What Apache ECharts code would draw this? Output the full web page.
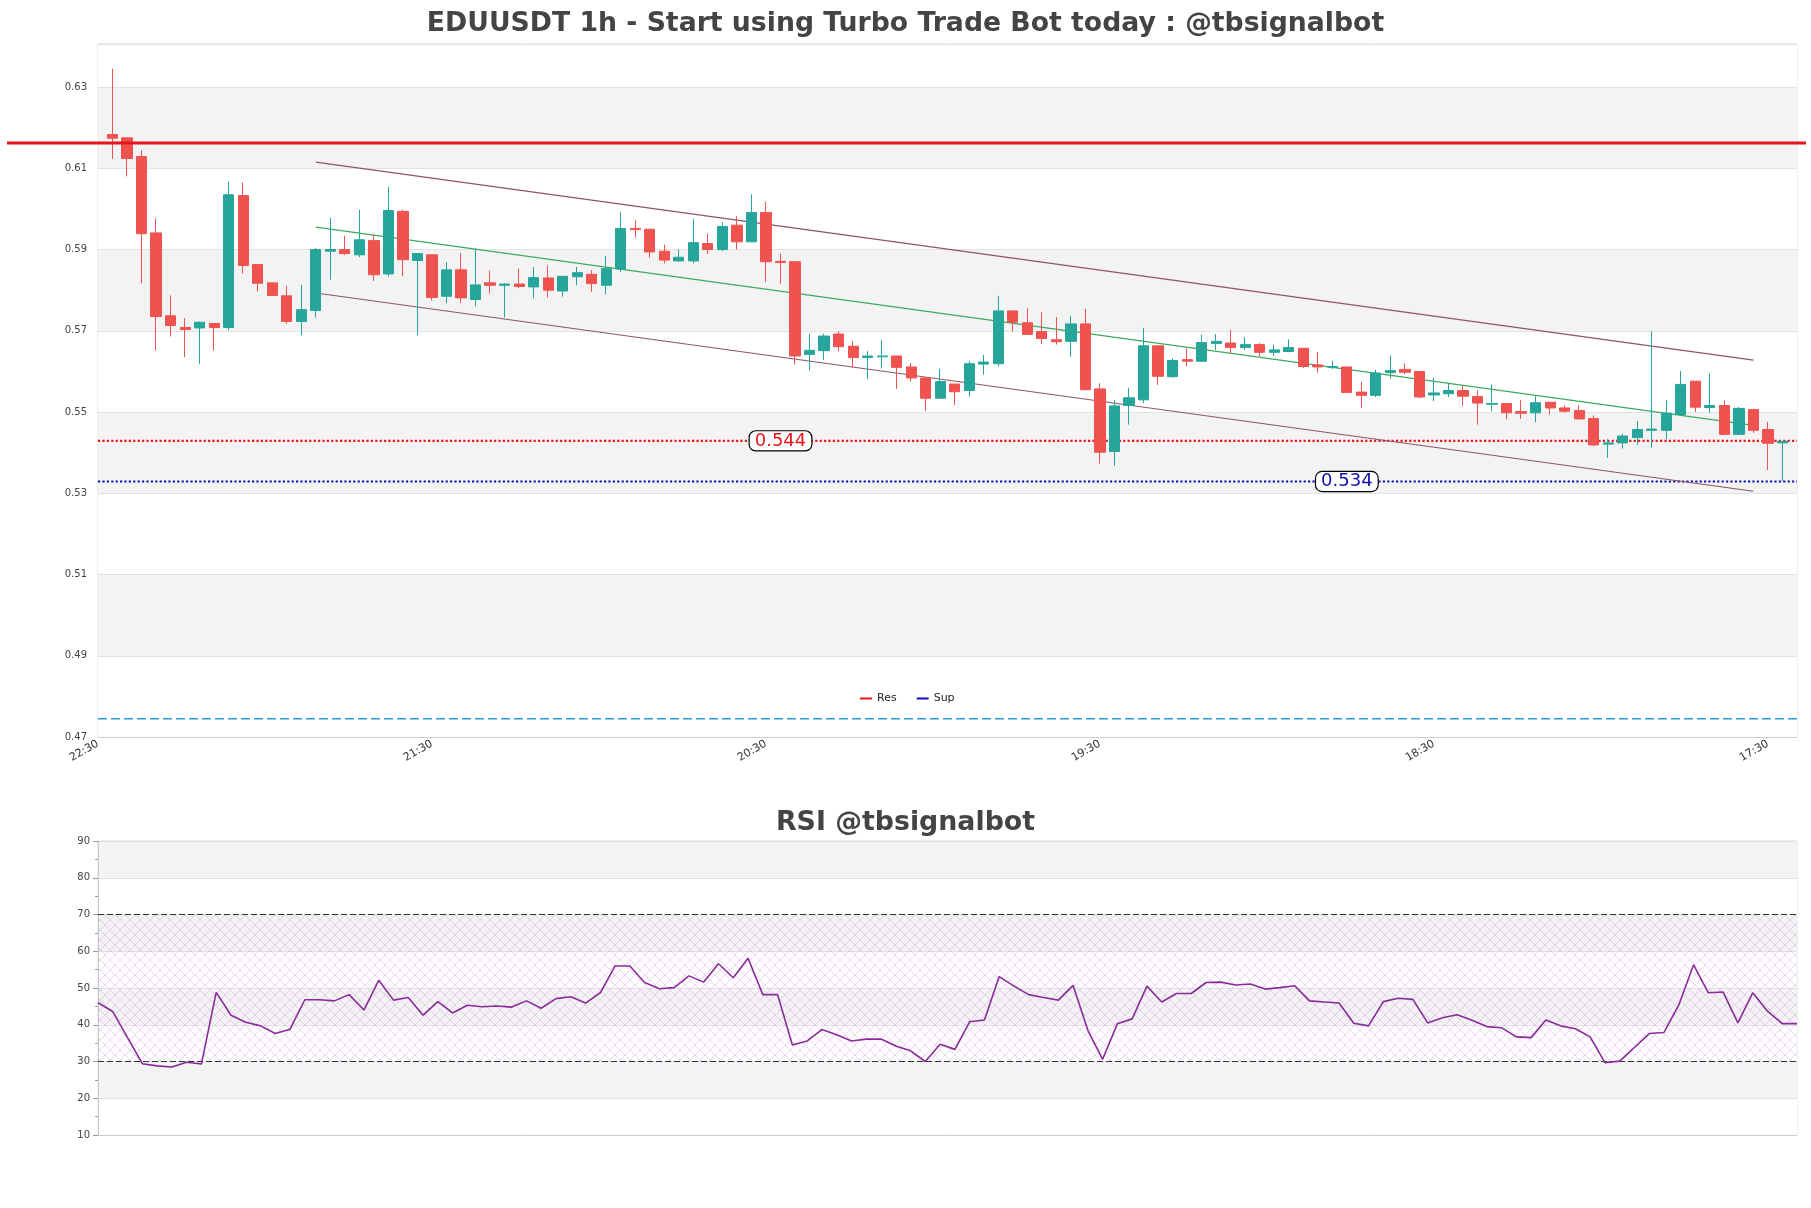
<!DOCTYPE html>
<html><head><meta charset="utf-8">
<script src="https://cdn.jsdelivr.net/npm/echarts@6/dist/echarts.min.js"></script>
<style>html,body{margin:0;padding:0;background:#fff}#c{width:1811px;height:1208px}</style>
</head><body><div id="c"></div><script>
// ---------- data ----------
const xLabels = ['22:30','21:30','20:30','19:30','18:30','17:30'];
const opens = [0.6183,0.6175,0.6129,0.5941,0.5737,0.5708,0.5707,0.5718,0.5708,0.6033,
0.5863,0.5818,0.5786,0.5723,0.5750,0.5896,0.5900,0.5887,0.5922,0.5840,
0.5994,0.5873,0.5887,0.5785,0.5850,0.5777,0.5818,0.5812,0.5815,0.5808,
0.5830,0.5798,0.5833,0.5839,0.5812,0.5852,0.5952,0.5950,0.5896,0.5872,
0.5872,0.5915,0.5900,0.5960,0.5919,0.5991,0.5871,0.5870,0.5642,0.5651,
0.5692,0.5662,0.5634,0.5636,0.5638,0.5611,0.5584,0.5534,0.5569,0.5553,
0.5618,0.5619,0.5749,0.5720,0.5698,0.5678,0.5674,0.5717,0.5557,0.5403,
0.5516,0.5530,0.5663,0.5587,0.5629,0.5625,0.5669,0.5670,0.5659,0.5666,
0.5647,0.5649,0.5657,0.5616,0.5610,0.5611,0.5549,0.5541,0.5597,0.5605,
0.5600,0.5542,0.5545,0.5553,0.5538,0.5519,0.5521,0.5501,0.5498,0.5524,
0.5510,0.5504,0.5484,0.5421,0.5424,0.5437,0.5455,0.5455,0.5494,0.5576,
0.5511,0.5516,0.5445,0.5506,0.5457,0.5424];
const closes = [0.6174,0.6124,0.5939,0.5735,0.5713,0.5703,0.5721,0.5708,0.6035,0.5861,
0.5817,0.5787,0.5723,0.5752,0.5900,0.5900,0.5890,0.5924,0.5838,0.5996,
0.5875,0.5890,0.5782,0.5850,0.5781,0.5813,0.5812,0.5815,0.5809,0.5831,
0.5800,0.5834,0.5843,0.5816,0.5853,0.5952,0.5949,0.5894,0.5874,0.5881,
0.5917,0.5900,0.5957,0.5919,0.5991,0.5870,0.5868,0.5638,0.5652,0.5687,
0.5661,0.5634,0.5638,0.5638,0.5610,0.5584,0.5534,0.5575,0.5550,0.5619,
0.5623,0.5749,0.5721,0.5691,0.5681,0.5673,0.5717,0.5555,0.5401,0.5515,
0.5535,0.5663,0.5588,0.5627,0.5625,0.5671,0.5674,0.5659,0.5666,0.5647,
0.5653,0.5659,0.5612,0.5611,0.5612,0.5548,0.5541,0.5596,0.5602,0.5598,
0.5537,0.5547,0.5553,0.5539,0.5522,0.5521,0.5498,0.5497,0.5523,0.5510,
0.5502,0.5483,0.5419,0.5424,0.5441,0.5457,0.5458,0.5497,0.5568,0.5512,
0.5516,0.5445,0.5509,0.5455,0.5423,0.5428];
const lows = [0.6123,0.6080,0.5817,0.5652,0.5686,0.5635,0.5618,0.5652,0.5701,0.5841,
0.5797,0.5787,0.5717,0.5689,0.5733,0.5826,0.5887,0.5881,0.5823,0.5834,
0.5834,0.5689,0.5775,0.5768,0.5768,0.5760,0.5792,0.5733,0.5805,0.5780,
0.5782,0.5784,0.5812,0.5796,0.5790,0.5845,0.5930,0.5880,0.5866,0.5870,
0.5866,0.5889,0.5896,0.5900,0.5919,0.5820,0.5816,0.5617,0.5602,0.5628,
0.5650,0.5610,0.5581,0.5607,0.5557,0.5576,0.5503,0.5534,0.5517,0.5538,
0.5592,0.5612,0.5698,0.5689,0.5668,0.5666,0.5636,0.5553,0.5373,0.5368,
0.5469,0.5522,0.5567,0.5584,0.5612,0.5623,0.5653,0.5643,0.5653,0.5637,
0.5638,0.5647,0.5608,0.5597,0.5606,0.5547,0.5510,0.5537,0.5582,0.5593,
0.5534,0.5527,0.5537,0.5515,0.5469,0.5502,0.5482,0.5483,0.5475,0.5494,
0.5498,0.5482,0.5416,0.5387,0.5410,0.5419,0.5412,0.5433,0.5490,0.5500,
0.5498,0.5445,0.5443,0.5449,0.5357,0.5330];
const highs = [0.6345,0.6175,0.6145,0.5976,0.5787,0.5731,0.5723,0.5719,0.6067,0.6065,
0.5863,0.5818,0.5811,0.5813,0.5904,0.5978,0.5934,0.5998,0.5937,0.6054,
0.5998,0.5890,0.5887,0.5869,0.5891,0.5902,0.5848,0.5817,0.5853,0.5857,
0.5861,0.5834,0.5857,0.5849,0.5884,0.5992,0.5972,0.5950,0.5912,0.5900,
0.5976,0.5939,0.5967,0.5982,0.6036,0.6017,0.5890,0.5870,0.5693,0.5693,
0.5699,0.5675,0.5650,0.5677,0.5638,0.5620,0.5584,0.5606,0.5569,0.5626,
0.5641,0.5786,0.5749,0.5756,0.5746,0.5734,0.5737,0.5754,0.5571,0.5530,
0.5560,0.5707,0.5663,0.5632,0.5657,0.5690,0.5692,0.5702,0.5684,0.5670,
0.5666,0.5679,0.5657,0.5648,0.5626,0.5611,0.5575,0.5604,0.5639,0.5620,
0.5600,0.5584,0.5572,0.5565,0.5554,0.5568,0.5521,0.5529,0.5539,0.5524,
0.5516,0.5516,0.5492,0.5433,0.5447,0.5478,0.5699,0.5529,0.5601,0.5576,
0.5595,0.5529,0.5512,0.5508,0.5476,0.5428];
const rsiValues = [46.0,43.6,36.5,29.4,28.8,28.5,29.8,29.3,48.8,42.6,
40.7,39.7,37.6,38.8,46.8,46.8,46.5,48.2,44.0,52.1,
46.7,47.4,42.6,46.3,43.2,45.3,44.9,45.1,44.8,46.5,
44.5,47.1,47.6,45.9,48.7,56.0,56.0,51.5,49.8,50.1,
53.3,51.6,56.6,52.8,58.1,48.2,48.2,34.5,35.6,38.7,
37.3,35.6,36.1,36.1,34.2,32.9,30.0,34.7,33.3,40.8,
41.3,53.1,50.5,48.2,47.4,46.7,50.7,38.5,30.6,40.3,
41.6,50.5,46.2,48.5,48.5,51.5,51.6,50.8,51.1,49.7,
50.1,50.6,46.5,46.2,45.9,40.4,39.7,46.3,47.2,46.9,
40.5,41.9,42.7,41.2,39.5,39.2,36.7,36.5,41.3,39.7,
38.9,36.7,29.7,30.1,33.8,37.6,37.9,45.4,56.3,48.7,
48.9,40.5,48.7,43.7,40.3,40.3];
const resLevel = 0.5429, resText = '0.544';
const supLevel = 0.5329, supText = '0.534';
const topLevel = 0.6162;
const lowDashLevel = 0.4745;
const channelX = [14, 113];
const channelUpper = [0.6115, 0.5628];
const channelMid = [0.5955, 0.5467];
const channelLower = [0.5793, 0.5305];
const rsiBands = [30, 70];

// ---------- build ----------
const N = opens.length;
const xMin = -1, xMax = N;
const candles = opens.map((o, i) => [i, o, closes[i], lows[i], highs[i]]);
const rsiData = rsiValues.map((v, i) => [i, v]);
const FONT = 'DejaVu Sans';

const pc = document.createElement('canvas');
pc.width = 10; pc.height = 10;
const g = pc.getContext('2d');
g.strokeStyle = 'rgba(195,150,210,0.55)';
g.lineWidth = 0.7;
g.beginPath(); g.moveTo(0, 0); g.lineTo(10, 10); g.moveTo(10, 0); g.lineTo(0, 10); g.stroke();

function hLine(name, level, color, type, width, labelAt, labelText) {
  const data = [[xMin, level], [xMax, level]];
  const s = {
    name, type: 'line', xAxisIndex: 0, yAxisIndex: 0, data, symbol: 'none',
    lineStyle: { color, type, width }, itemStyle: { color }, silent: true, z: 3
  };
  if (labelText) {
    s.markPoint = {
      symbol: 'rect', symbolSize: [1, 1], itemStyle: { color: 'rgba(0,0,0,0)' },
      data: [{ coord: [labelAt, level], value: labelText }],
      label: {
        show: true, position: 'inside', formatter: labelText, color, fontFamily: FONT, fontSize: 18,
        backgroundColor: '#fff', borderColor: '#000', borderWidth: 1.2, borderRadius: 6, padding: [1, 5, 0, 5]
      }
    };
  }
  return s;
}
function segLine(ys, color) {
  return { type: 'line', xAxisIndex: 0, yAxisIndex: 0, symbol: 'none', silent: true,
    data: [[channelX[0], ys[0]], [channelX[1], ys[1]]], lineStyle: { color, width: 1.2 }, z: 4 };
}

const chart = echarts.init(document.getElementById('c'), null, { renderer: 'canvas' });
const option = {
  animation: false,
  backgroundColor: '#fff',
  textStyle: { fontFamily: FONT },
  title: [
    { text: 'EDUUSDT 1h - Start using Turbo Trade Bot today : @tbsignalbot', left: 'center', top: 6,
      textStyle: { fontFamily: FONT, fontWeight: 'bold', fontSize: 26.7, color: '#444' } },
    { text: 'RSI @tbsignalbot', left: 'center', top: 805,
      textStyle: { fontFamily: FONT, fontWeight: 'bold', fontSize: 26.8, color: '#444' } }
  ],
  legend: {
    data: ['Res', 'Sup'], left: 855, top: 688, icon: 'rect', itemWidth: 12, itemHeight: 2, itemGap: 20,
    textStyle: { fontFamily: FONT, fontSize: 11, color: '#222' }
  },
  grid: [
    { left: 98, right: 14, top: 44, height: 693, show: true, borderColor: '#ddd', borderWidth: 1, backgroundColor: '#fff' },
    { left: 98, right: 14, top: 841, height: 294, show: true, borderColor: '#ddd', borderWidth: 1, backgroundColor: '#fff' }
  ],
  xAxis: [
    { type: 'value', gridIndex: 0, min: xMin, max: xMax, interval: 23,
      axisLine: { show: true, lineStyle: { color: '#ccc' } }, axisTick: { show: false }, splitLine: { show: false },
      axisLabel: { rotate: 30, fontSize: 11, color: '#333', fontFamily: FONT, margin: 6, showMaxLabel: false,
        formatter: v => { const k = (v - xMin) / 23; const r = Math.round(k); return Math.abs(k - r) < 1e-6 ? (xLabels[r] || '') : ''; } } },
    { type: 'value', gridIndex: 1, min: 0, max: N - 1,
      axisLine: { show: true, lineStyle: { color: '#ccc' } }, axisTick: { show: false }, axisLabel: { show: false }, splitLine: { show: false } }
  ],
  yAxis: [
    { type: 'value', gridIndex: 0, min: 0.47, max: 0.6406, interval: 0.02, scale: true,
      axisLine: { show: false }, axisTick: { show: false },
      axisLabel: { fontSize: 10, color: '#444', fontFamily: FONT, margin: 11, showMaxLabel: false, formatter: v => v.toFixed(2) },
      splitLine: { show: true, lineStyle: { color: '#e2e2e2' } },
      splitArea: { show: true, areaStyle: { color: ['#ffffff', '#f3f3f3'] } } },
    { type: 'value', gridIndex: 1, min: 10, max: 90, interval: 10,
      axisLine: { show: true, lineStyle: { color: '#ccc' } },
      axisTick: { show: true, length: 5, lineStyle: { color: '#999' } },
      minorTick: { show: true, splitNumber: 2, length: 3, lineStyle: { color: '#999' } },
      axisLabel: { fontSize: 10, color: '#444', fontFamily: FONT, margin: 8 },
      splitLine: { show: true, lineStyle: { color: '#e2e2e2' } },
      splitArea: { show: true, areaStyle: { color: ['#ffffff', '#f3f3f3'] } } }
  ],
  series: [
    { type: 'candlestick', xAxisIndex: 0, yAxisIndex: 0, data: candles, barWidth: '73%', z: 5,
      itemStyle: { color: '#26a69a', color0: '#ef5350', borderColor: '#26a69a', borderColor0: '#ef5350', borderWidth: 1 } },
    hLine('Res', resLevel, '#e8161b', 'dotted', 2.2, 46, resText),
    hLine('Sup', supLevel, '#1010b0', 'dotted', 2.2, 85, supText),
    hLine('lowdash', lowDashLevel, '#2a9bd6', [9, 4], 1.4),
    segLine(channelUpper, '#8e5565'),
    segLine(channelMid, '#3daa5f'),
    segLine(channelLower, '#8e5565'),
    { type: 'line', xAxisIndex: 1, yAxisIndex: 1, data: rsiData, symbol: 'none', z: 5,
      lineStyle: { color: '#8a2b9a', width: 1.6 },
      markArea: { silent: true, itemStyle: { color: { image: pc, repeat: 'repeat' } },
        data: [[{ yAxis: rsiBands[0] }, { yAxis: rsiBands[1] }]] },
      markLine: { silent: true, symbol: 'none', label: { show: false },
        lineStyle: { color: '#333', type: [6, 3], width: 1.2 },
        data: [{ yAxis: rsiBands[0] }, { yAxis: rsiBands[1] }] } }
  ]
};
chart.setOption(option);
const yTop = chart.convertToPixel({ gridIndex: 0 }, [0, topLevel])[1];
chart.setOption({ graphic: [{ type: 'line', z: 100, silent: true,
  shape: { x1: 7, y1: yTop, x2: 1806, y2: yTop }, style: { stroke: '#e8141c', lineWidth: 3 } }] });
</script></body></html>
